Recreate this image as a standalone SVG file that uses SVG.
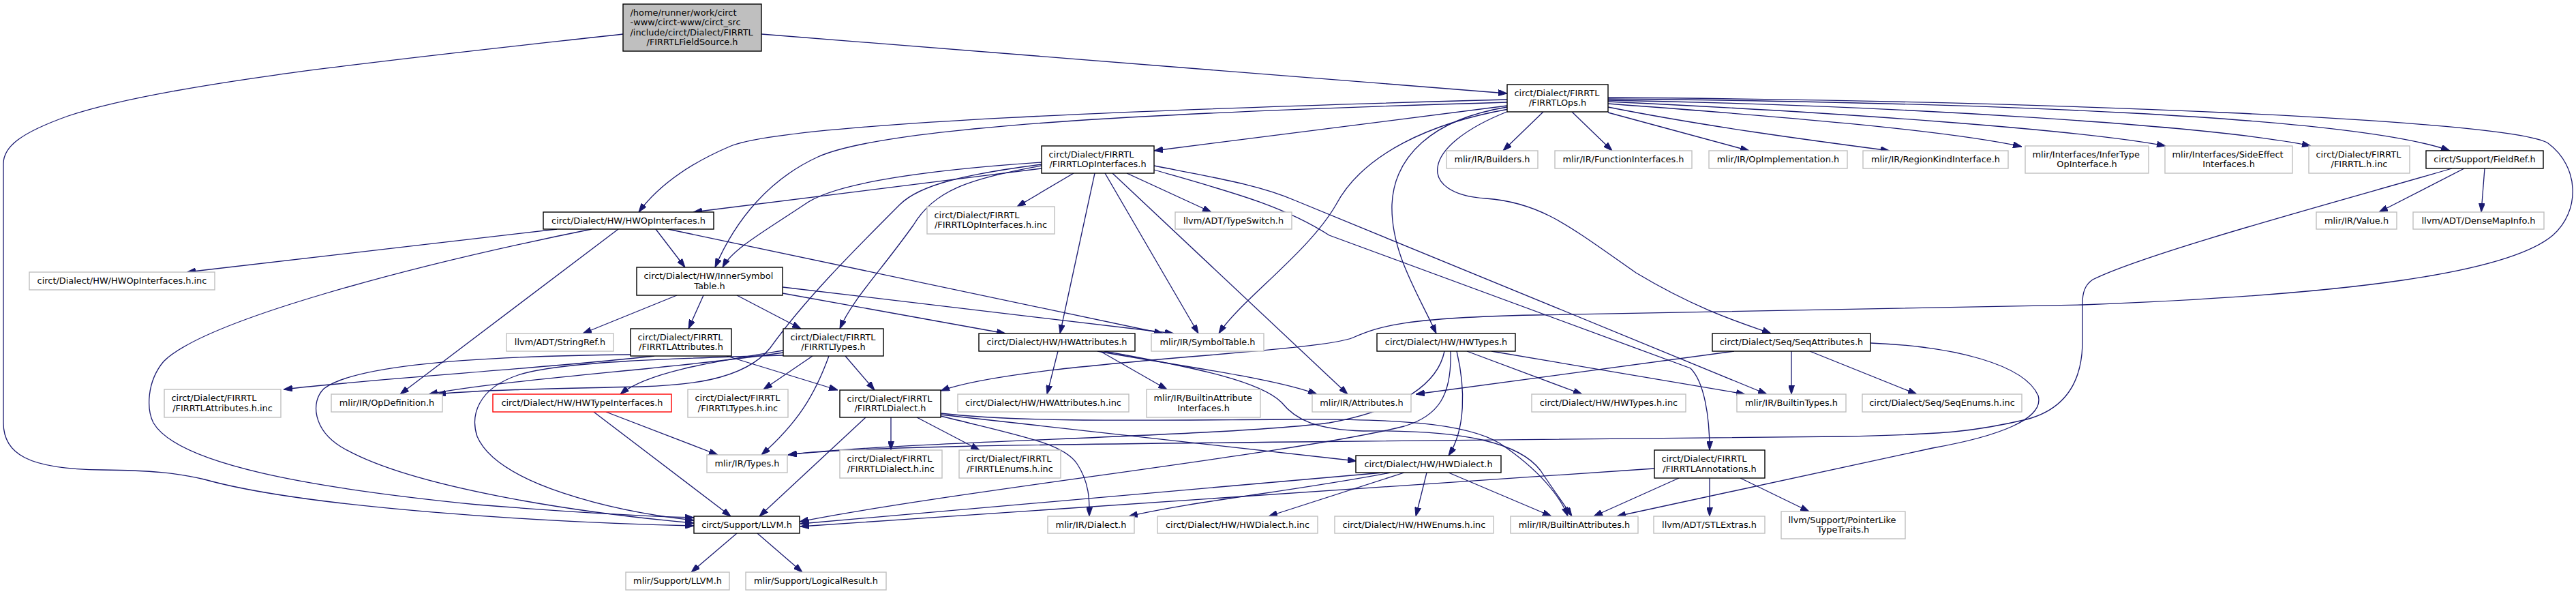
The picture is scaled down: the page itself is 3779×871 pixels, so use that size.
<svg xmlns="http://www.w3.org/2000/svg" width="3779" height="871" viewBox="0 0 3779 871">
<style>
text{font-family:"DejaVu Sans","Liberation Sans",sans-serif;font-size:12.9px;fill:#000}
.s{text-anchor:start}
.m{text-anchor:middle}
.nb rect{fill:#fff;stroke:#000;stroke-width:1.4}
.ng rect{fill:#fff;stroke:#bfbfbf;stroke-width:1.4}
.nr rect{fill:#fff;stroke:#ff0000;stroke-width:1.4}
.root rect{fill:#bfbfbf;stroke:#000;stroke-width:1.4}
#edges path{fill:none;stroke:#191970;stroke-width:1.3;marker-end:url(#ah)}
</style>
<defs>
<marker id="ah" viewBox="0 0 13 9" refX="13" refY="4.5" markerWidth="13" markerHeight="9" markerUnits="userSpaceOnUse" orient="auto"><path d="M0,0 L13,4.5 L0,9 z" fill="#191970" stroke="#191970" stroke-width="1"/></marker>
</defs>
<rect width="3779" height="871" fill="#fff"/>
<g id="edges">
<path d="M1117,50 L2211,137"/>
<path d="M914,50 C600,85 250,120 100,170 C30,195 5,215 5,240 L5,620 C5,665 40,688 150,689 C220,690 260,693 300,703 C450,745 800,766 1018,771"/>
<path d="M2264,164 L2205,221"/>
<path d="M2306,164 L2365,221"/>
<path d="M2359,165 L2566,221"/>
<path d="M2359,157 C2500,185 2650,205 2772,221"/>
<path d="M2359,152 C2600,170 2850,190 2966,215"/>
<path d="M2359,149 C2700,165 3050,190 3177,214"/>
<path d="M2359,147 C2800,155 3250,185 3390,214"/>
<path d="M2359,145 C2900,150 3450,170 3594,221"/>
<path d="M2359,143 C3000,148 3680,175 3738,210 C3785,245 3785,310 3745,345 C3680,400 3450,432 3055,447 L2250,462 C2060,466 2025,478 1985,495 C1930,518 1500,530 1380,573"/>
<path d="M2211,155 L1693,221"/>
<path d="M2211,146 C1700,160 1150,180 1070,215 C1000,245 960,280 937,311"/>
<path d="M2211,150 C1700,165 1300,185 1200,230 C1130,262 1080,320 1049,392"/>
<path d="M2211,157 C2100,175 2045,230 2042,300 C2040,370 2080,430 2107,489"/>
<path d="M2213,160 C2100,180 2000,225 1960,300 C1920,370 1820,440 1788,489"/>
<path d="M2213,163 C2080,215 2080,285 2180,291 C2260,297 2300,330 2400,400 C2500,460 2570,478 2598,489"/>
<path d="M1575,254 L1492,303"/>
<path d="M1653,254 L1777,311"/>
<path d="M1621,254 L1758,489"/>
<path d="M1606,254 L1555,489"/>
<path d="M1632,254 L1977,578"/>
<path d="M1693,243 C1790,262 1850,272 1900,294 L2592,578"/>
<path d="M1693,249 C1800,280 1880,300 1950,345 L2480,540 C2500,560 2508,610 2508,660"/>
<path d="M1528,247 L1017,311"/>
<path d="M1528,238 C1350,250 1220,270 1180,300 C1120,340 1075,365 1060,392"/>
<path d="M1528,243 C1420,262 1370,280 1340,330 C1290,400 1250,440 1232,482"/>
<path d="M1528,241 C1420,255 1350,270 1320,300 C1250,370 1180,440 1130,510 C1090,560 1000,565 940,567 C800,570 700,572 641,578"/>
<path d="M817,336 L274,399"/>
<path d="M868,336 C600,390 300,470 240,530 C215,560 215,600 225,620 C260,680 450,715 700,740 C850,752 950,757 1018,759"/>
<path d="M907,336 L587,578"/>
<path d="M962,336 L1005,392"/>
<path d="M980,336 L1706,489"/>
<path d="M993,433 L855,489"/>
<path d="M1032,433 L1010,482"/>
<path d="M1081,433 L1175,482"/>
<path d="M1148,430 L1475,489"/>
<path d="M1148,421 L1722,489"/>
<path d="M960,522 C800,540 550,555 416,571"/>
<path d="M925,520 C700,522 520,535 475,570 C455,590 460,630 500,655 C600,715 850,752 1018,767"/>
<path d="M1066,522 L1229,572"/>
<path d="M1192,522 L1120,571"/>
<path d="M1240,522 L1283,572"/>
<path d="M1216,522 C1195,580 1170,620 1117,667"/>
<path d="M1149,514 C1050,530 950,545 910,578"/>
<path d="M1149,517 C1000,540 750,555 629,578"/>
<path d="M1149,521 C1000,525 820,530 760,550 C700,570 690,610 700,640 C730,710 900,750 1018,763"/>
<path d="M889,604 L1053,667"/>
<path d="M871,604 L1072,757"/>
<path d="M1552,515 L1536,578"/>
<path d="M1614,515 L1712,571"/>
<path d="M1610,515 C1750,540 1870,555 1932,578"/>
<path d="M1620,515 C1760,540 1850,560 1880,590 C1900,615 1930,630 2000,632 C2150,630 2230,650 2260,690 C2280,720 2295,740 2306,757"/>
<path d="M1270,612 L1114,757"/>
<path d="M1307,612 L1307,660"/>
<path d="M1345,612 L1437,660"/>
<path d="M1380,610 C1500,640 1560,650 1580,680 C1600,710 1598,740 1598,757"/>
<path d="M1380,608 L1990,676"/>
<path d="M1380,606 C1500,620 1700,616 1890,615 C2050,614 2150,620 2200,650 C2260,690 2290,730 2300,757"/>
<path d="M2152,515 L2321,578"/>
<path d="M2188,515 L2560,578"/>
<path d="M2137,515 C2150,570 2150,630 2125,668"/>
<path d="M2128,515 C2130,580 2110,610 2060,625 C1900,665 1400,720 1173,765"/>
<path d="M2119,515 C2110,560 2060,600 1950,620 C1800,640 1300,648 1156,667"/>
<path d="M2544,515 L2077,578"/>
<path d="M2628,515 L2628,578"/>
<path d="M2655,515 L2812,578"/>
<path d="M2744,503 C2870,508 2970,535 2990,580 C3000,615 2930,640 2835,657 L2372,757"/>
<path d="M3615,247 L3490,311"/>
<path d="M3645,247 L3640,311"/>
<path d="M3597,247 C3450,290 3150,370 3070,410 C3058,418 3055,430 3055,445 L3055,500 C3055,560 3030,600 2973,615 C2900,632 2860,637 2700,640 L1900,648 C1500,652 1250,655 1156,667"/>
<path d="M2427,687 L1174,772"/>
<path d="M2463,701 L2338,757"/>
<path d="M2508,701 L2508,757"/>
<path d="M2553,701 L2654,750"/>
<path d="M2029,693 L1174,768"/>
<path d="M2040,693 C1900,720 1750,735 1656,757"/>
<path d="M2060,693 L1861,757"/>
<path d="M2093,693 L2077,757"/>
<path d="M2125,693 L2276,757"/>
<path d="M1081,782 L1014,839"/>
<path d="M1111,782 L1177,839"/>
</g>
<g id="n_root" class="root"><rect x="914" y="6" width="203" height="69"/><text class="s" x="924.5" y="23.2">/home/runner/work/circt</text><text class="s" x="924.5" y="37.4">-www/circt-www/circt_src</text><text class="s" x="924.5" y="51.6">/include/circt/Dialect/FIRRTL</text><text class="m" x="1015.5" y="65.8">/FIRRTLFieldSource.h</text></g>
<g id="n_ops" class="nb"><rect x="2211" y="124" width="148" height="40"/><text class="s" x="2221.5" y="140.9">circt/Dialect/FIRRTL</text><text class="m" x="2285" y="155.1">/FIRRTLOps.h</text></g>
<g id="n_opif" class="nb"><rect x="1528" y="214" width="165" height="40"/><text class="s" x="1538.5" y="230.9">circt/Dialect/FIRRTL</text><text class="m" x="1610.5" y="245.1">/FIRRTLOpInterfaces.h</text></g>
<g id="n_builders" class="ng"><rect x="2122" y="221" width="134" height="26"/><text class="m" x="2189" y="238">mlir/IR/Builders.h</text></g>
<g id="n_funcif" class="ng"><rect x="2281" y="221" width="201" height="26"/><text class="m" x="2381.5" y="238">mlir/IR/FunctionInterfaces.h</text></g>
<g id="n_opimpl" class="ng"><rect x="2507" y="221" width="203" height="26"/><text class="m" x="2608.5" y="238">mlir/IR/OpImplementation.h</text></g>
<g id="n_region" class="ng"><rect x="2733" y="221" width="213" height="26"/><text class="m" x="2839.5" y="238">mlir/IR/RegionKindInterface.h</text></g>
<g id="n_infer" class="ng"><rect x="2971" y="214" width="181" height="40"/><text class="s" x="2981.5" y="230.9">mlir/Interfaces/InferType</text><text class="m" x="3061.5" y="245.1">OpInterface.h</text></g>
<g id="n_side" class="ng"><rect x="3176" y="214" width="187" height="40"/><text class="s" x="3186.5" y="230.9">mlir/Interfaces/SideEffect</text><text class="m" x="3269.5" y="245.1">Interfaces.h</text></g>
<g id="n_firinc" class="ng"><rect x="3387" y="214" width="148" height="40"/><text class="s" x="3397.5" y="230.9">circt/Dialect/FIRRTL</text><text class="m" x="3461" y="245.1">/FIRRTL.h.inc</text></g>
<g id="n_fieldref" class="nb"><rect x="3559" y="221" width="172" height="26"/><text class="m" x="3645" y="238">circt/Support/FieldRef.h</text></g>
<g id="n_value" class="ng"><rect x="3398" y="311" width="118" height="25"/><text class="m" x="3457" y="327.5">mlir/IR/Value.h</text></g>
<g id="n_dense" class="ng"><rect x="3540" y="311" width="192" height="25"/><text class="m" x="3636" y="327.5">llvm/ADT/DenseMapInfo.h</text></g>
<g id="n_hwopif" class="nb"><rect x="797" y="311" width="250" height="25"/><text class="m" x="922" y="327.5">circt/Dialect/HW/HWOpInterfaces.h</text></g>
<g id="n_hwopifinc" class="ng"><rect x="43" y="399" width="272" height="26"/><text class="m" x="179" y="416">circt/Dialect/HW/HWOpInterfaces.h.inc</text></g>
<g id="n_opifinc" class="ng"><rect x="1360" y="303" width="187" height="40"/><text class="s" x="1370.5" y="319.9">circt/Dialect/FIRRTL</text><text class="m" x="1453.5" y="334.1">/FIRRTLOpInterfaces.h.inc</text></g>
<g id="n_typeswitch" class="ng"><rect x="1724" y="311" width="171" height="25"/><text class="m" x="1809.5" y="327.5">llvm/ADT/TypeSwitch.h</text></g>
<g id="n_innersym" class="nb"><rect x="934" y="392" width="214" height="41"/><text class="s" x="944.5" y="409.4">circt/Dialect/HW/InnerSymbol</text><text class="m" x="1041" y="423.6">Table.h</text></g>
<g id="n_stringref" class="ng"><rect x="743" y="489" width="157" height="26"/><text class="m" x="821.5" y="506">llvm/ADT/StringRef.h</text></g>
<g id="n_firattr" class="nb"><rect x="925" y="482" width="148" height="40"/><text class="s" x="935.5" y="498.9">circt/Dialect/FIRRTL</text><text class="m" x="999" y="513.1">/FIRRTLAttributes.h</text></g>
<g id="n_firtypes" class="nb"><rect x="1149" y="482" width="147" height="40"/><text class="s" x="1159.5" y="498.9">circt/Dialect/FIRRTL</text><text class="m" x="1222.5" y="513.1">/FIRRTLTypes.h</text></g>
<g id="n_hwattr" class="nb"><rect x="1436" y="489" width="229" height="26"/><text class="m" x="1550.5" y="506">circt/Dialect/HW/HWAttributes.h</text></g>
<g id="n_symtab" class="ng"><rect x="1689" y="489" width="165" height="26"/><text class="m" x="1771.5" y="506">mlir/IR/SymbolTable.h</text></g>
<g id="n_hwtypes" class="nb"><rect x="2020" y="489" width="203" height="26"/><text class="m" x="2121.5" y="506">circt/Dialect/HW/HWTypes.h</text></g>
<g id="n_seqattr" class="nb"><rect x="2512" y="489" width="232" height="26"/><text class="m" x="2628" y="506">circt/Dialect/Seq/SeqAttributes.h</text></g>
<g id="n_firattrinc" class="ng"><rect x="241" y="571" width="171" height="41"/><text class="s" x="251.5" y="588.4">circt/Dialect/FIRRTL</text><text class="m" x="326.5" y="602.6">/FIRRTLAttributes.h.inc</text></g>
<g id="n_opdef" class="ng"><rect x="486" y="578" width="163" height="26"/><text class="m" x="567.5" y="595">mlir/IR/OpDefinition.h</text></g>
<g id="n_hwtypeif" class="nr"><rect x="723" y="578" width="262" height="26"/><text class="m" x="854" y="595">circt/Dialect/HW/HWTypeInterfaces.h</text></g>
<g id="n_firtypesinc" class="ng"><rect x="1009" y="571" width="147" height="41"/><text class="s" x="1019.5" y="588.4">circt/Dialect/FIRRTL</text><text class="m" x="1082.5" y="602.6">/FIRRTLTypes.h.inc</text></g>
<g id="n_firdialect" class="nb"><rect x="1232" y="572" width="148" height="40"/><text class="s" x="1242.5" y="588.9">circt/Dialect/FIRRTL</text><text class="m" x="1306" y="603.1">/FIRRTLDialect.h</text></g>
<g id="n_hwattrinc" class="ng"><rect x="1405" y="578" width="251" height="26"/><text class="m" x="1530.5" y="595">circt/Dialect/HW/HWAttributes.h.inc</text></g>
<g id="n_battrif" class="ng"><rect x="1682" y="571" width="167" height="41"/><text class="s" x="1692.5" y="588.4">mlir/IR/BuiltinAttribute</text><text class="m" x="1765.5" y="602.6">Interfaces.h</text></g>
<g id="n_attrs" class="ng"><rect x="1925" y="578" width="145" height="26"/><text class="m" x="1997.5" y="595">mlir/IR/Attributes.h</text></g>
<g id="n_hwtypesinc" class="ng"><rect x="2247" y="578" width="226" height="26"/><text class="m" x="2360" y="595">circt/Dialect/HW/HWTypes.h.inc</text></g>
<g id="n_btypes" class="ng"><rect x="2548" y="578" width="160" height="26"/><text class="m" x="2628" y="595">mlir/IR/BuiltinTypes.h</text></g>
<g id="n_seqenums" class="ng"><rect x="2732" y="578" width="234" height="26"/><text class="m" x="2849" y="595">circt/Dialect/Seq/SeqEnums.h.inc</text></g>
<g id="n_types" class="ng"><rect x="1037" y="667" width="118" height="26"/><text class="m" x="1096" y="684">mlir/IR/Types.h</text></g>
<g id="n_firdialinc" class="ng"><rect x="1232" y="660" width="150" height="41"/><text class="s" x="1242.5" y="677.4">circt/Dialect/FIRRTL</text><text class="m" x="1307" y="691.6">/FIRRTLDialect.h.inc</text></g>
<g id="n_firenums" class="ng"><rect x="1407" y="660" width="149" height="41"/><text class="s" x="1417.5" y="677.4">circt/Dialect/FIRRTL</text><text class="m" x="1481.5" y="691.6">/FIRRTLEnums.h.inc</text></g>
<g id="n_hwdialect" class="nb"><rect x="1989" y="668" width="213" height="25"/><text class="m" x="2095.5" y="684.5">circt/Dialect/HW/HWDialect.h</text></g>
<g id="n_annot" class="nb"><rect x="2427" y="660" width="162" height="41"/><text class="s" x="2437.5" y="677.4">circt/Dialect/FIRRTL</text><text class="m" x="2508" y="691.6">/FIRRTLAnnotations.h</text></g>
<g id="n_llvm" class="nb"><rect x="1018" y="757" width="155" height="25"/><text class="m" x="1095.5" y="773.5">circt/Support/LLVM.h</text></g>
<g id="n_dialect" class="ng"><rect x="1537" y="757" width="127" height="25"/><text class="m" x="1600.5" y="773.5">mlir/IR/Dialect.h</text></g>
<g id="n_hwdialinc" class="ng"><rect x="1698" y="757" width="235" height="25"/><text class="m" x="1815.5" y="773.5">circt/Dialect/HW/HWDialect.h.inc</text></g>
<g id="n_hwenums" class="ng"><rect x="1958" y="757" width="233" height="25"/><text class="m" x="2074.5" y="773.5">circt/Dialect/HW/HWEnums.h.inc</text></g>
<g id="n_battrs" class="ng"><rect x="2216" y="757" width="187" height="25"/><text class="m" x="2309.5" y="773.5">mlir/IR/BuiltinAttributes.h</text></g>
<g id="n_stlextras" class="ng"><rect x="2426" y="757" width="163" height="25"/><text class="m" x="2507.5" y="773.5">llvm/ADT/STLExtras.h</text></g>
<g id="n_ptrlike" class="ng"><rect x="2613" y="750" width="182" height="40"/><text class="s" x="2623.5" y="766.9">llvm/Support/PointerLike</text><text class="m" x="2704" y="781.1">TypeTraits.h</text></g>
<g id="n_mlirllvm" class="ng"><rect x="918" y="839" width="152" height="26"/><text class="m" x="994" y="856">mlir/Support/LLVM.h</text></g>
<g id="n_logical" class="ng"><rect x="1094" y="839" width="206" height="26"/><text class="m" x="1197" y="856">mlir/Support/LogicalResult.h</text></g>
</svg>
